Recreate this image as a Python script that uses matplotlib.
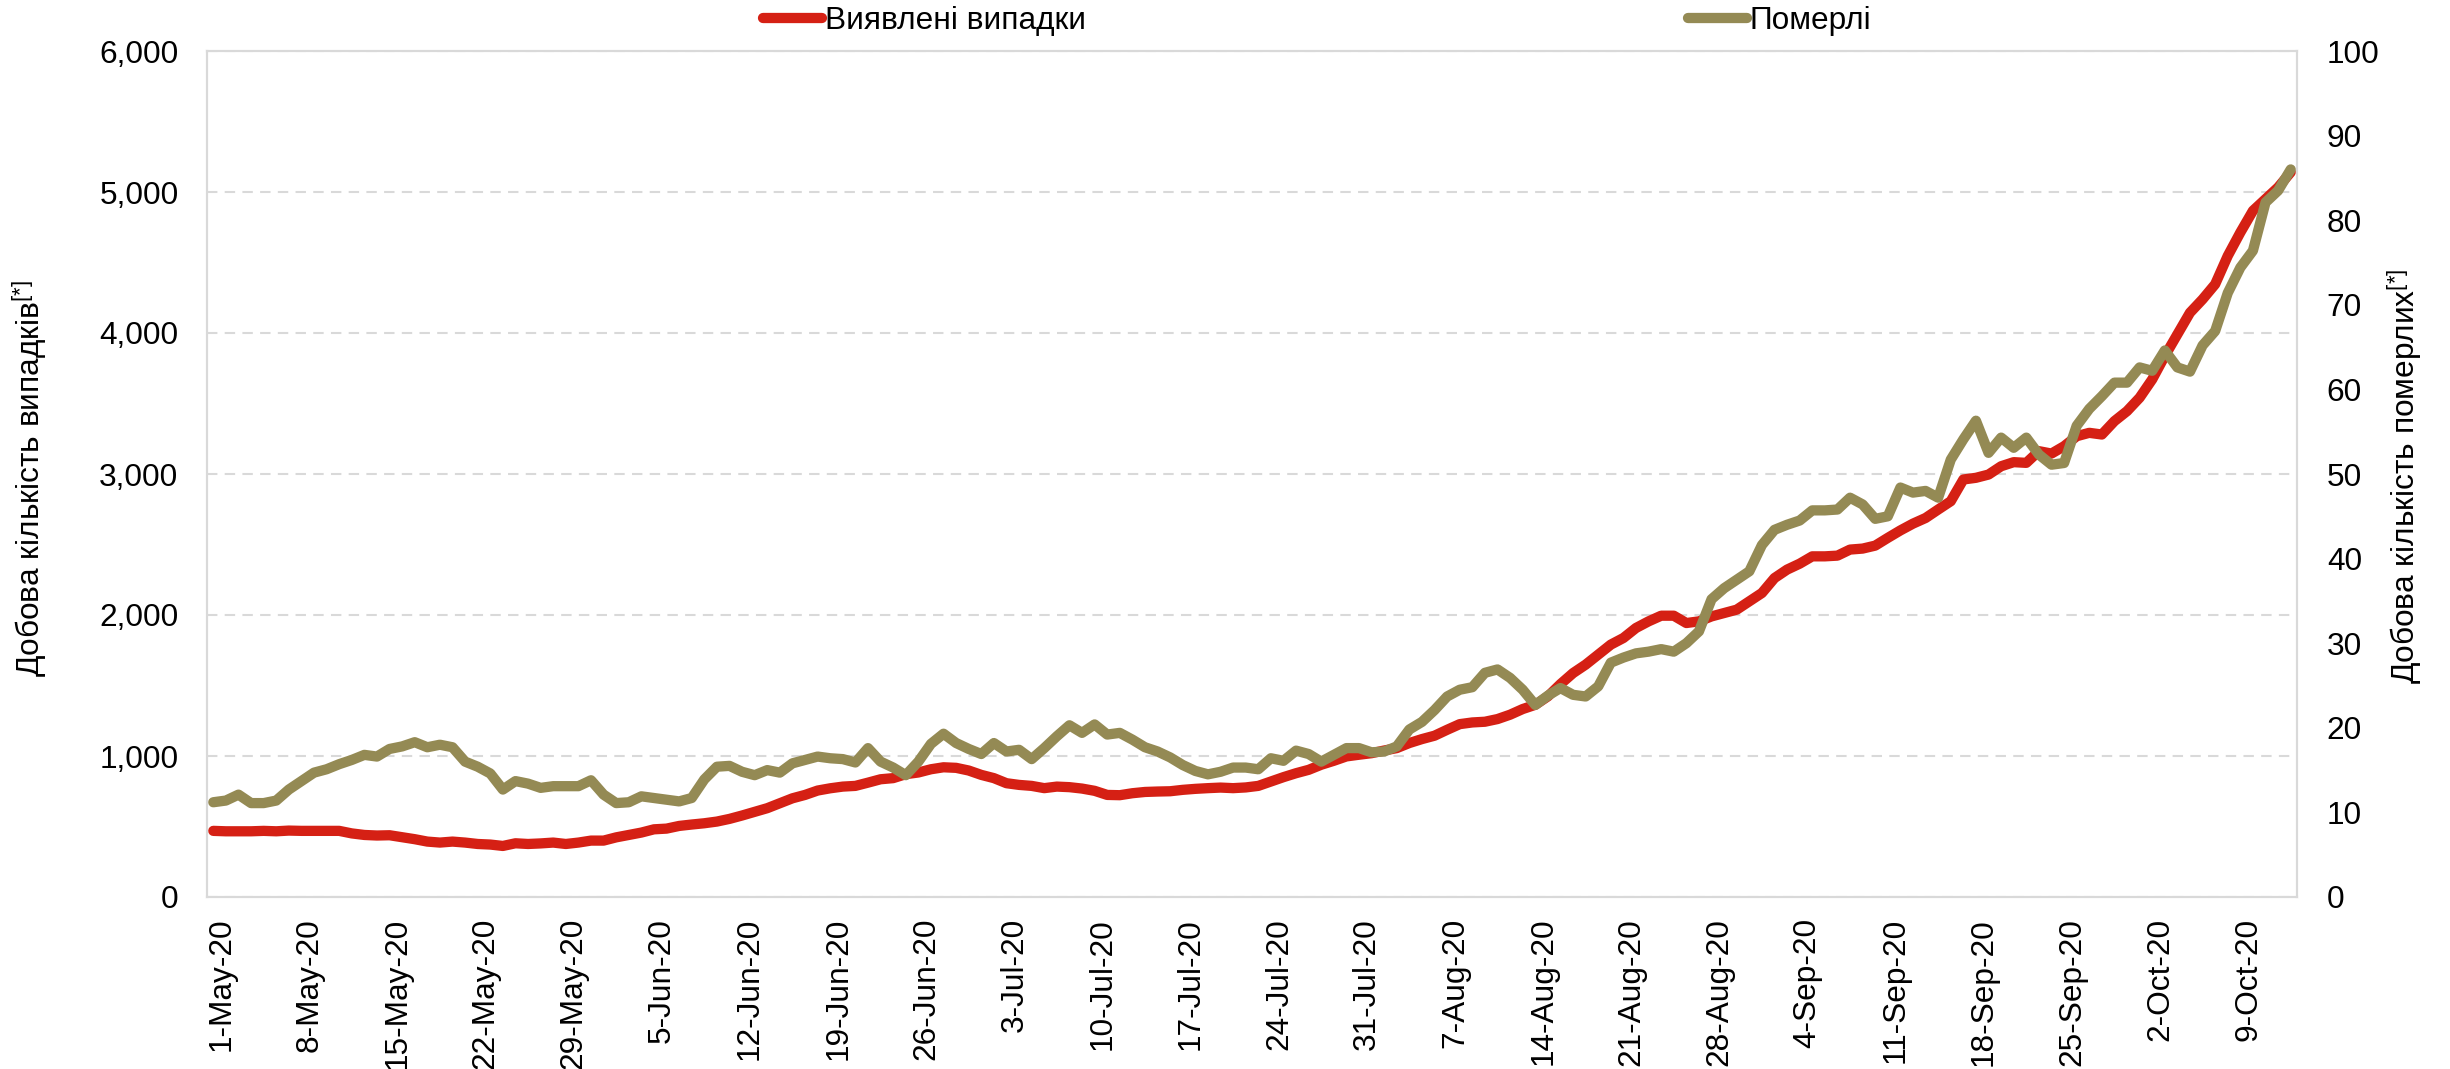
import pandas as pd
import matplotlib
matplotlib.use("Agg")
import matplotlib.pyplot as plt
import matplotlib.dates as mdates
import matplotlib.transforms as mtransforms

plt.rcParams["font.family"] = ["Liberation Sans", "DejaVu Sans"]
plt.rcParams["mathtext.fontset"] = "custom"
plt.rcParams["mathtext.rm"] = "Liberation Sans"
plt.rcParams["mathtext.it"] = "Liberation Sans:italic"

# daily series, 1 May 2020 - 13 Oct 2020
dates = pd.date_range("2020-05-01", "2020-10-13", freq="D")

cases = [
    469, 466, 466, 466, 469, 466, 471, 469, 469, 469, 469, 451, 440, 436, 438, 424, 410, 393, 386, 393,
    386, 376, 372, 362, 381, 376, 380,
    386, 376, 386, 400, 400, 423, 440, 457, 480, 485, 504, 514, 523, 535, 554, 578, 604, 630, 665, 700,
    724, 755, 771, 783, 788, 811, 835,
    843, 871, 883, 906, 920, 916, 897, 866, 843, 807, 795, 788, 772, 783, 779, 769, 753, 724, 722, 736,
    745, 748, 750, 760, 767, 772, 776,
    772, 777, 788, 819, 850, 878, 902, 938, 966, 997, 1009, 1020, 1039, 1056, 1092, 1120, 1144, 1186,
    1226, 1238, 1243, 1262, 1293, 1333, 1363, 1423, 1510,
    1588, 1648, 1719, 1790, 1837, 1908, 1955, 1995, 1995, 1943, 1955, 1990, 2014, 2038, 2097, 2156,
    2262, 2322, 2364, 2416, 2416, 2421, 2464, 2471, 2492, 2547, 2600,
    2648, 2688, 2748, 2807, 2961, 2973, 2996, 3055, 3084, 3079, 3162, 3145, 3197, 3268, 3292, 3280,
    3375, 3446, 3541, 3671, 3837, 3990, 4144, 4239, 4346, 4547, 4713, 4867, 4950, 5033, 5140,
]

deaths = [
    11.2, 11.4, 12.1, 11.1, 11.1, 11.4, 12.7, 13.7, 14.7, 15.1, 15.7, 16.2, 16.8, 16.6, 17.5, 17.8,
    18.3, 17.7, 18.0, 17.7, 16.0, 15.4, 14.6, 12.7, 13.7, 13.4, 12.9,
    13.1, 13.1, 13.1, 13.8, 12.1, 11.1, 11.2, 11.9, 11.7, 11.5, 11.3, 11.7, 13.9, 15.4, 15.5, 14.8,
    14.4, 15.0, 14.7, 15.8, 16.2, 16.6, 16.4, 16.3, 15.9, 17.6, 16.0,
    15.3, 14.4, 16.0, 18.1, 19.3, 18.2, 17.5, 16.9, 18.2, 17.2, 17.4, 16.3, 17.6, 19.0, 20.3, 19.4,
    20.4, 19.2, 19.4, 18.6, 17.7, 17.2, 16.5, 15.6, 14.9, 14.5, 14.8,
    15.3, 15.3, 15.1, 16.4, 16.1, 17.3, 16.9, 16.0, 16.8, 17.6, 17.6, 17.1, 17.2, 17.8, 19.8, 20.7,
    22.1, 23.7, 24.5, 24.8, 26.5, 26.9, 25.9, 24.5, 22.7, 23.8, 24.7,
    23.9, 23.7, 24.9, 27.7, 28.3, 28.8, 29.0, 29.3, 29.0, 30.0, 31.4, 35.2, 36.5, 37.5, 38.5, 41.6,
    43.4, 44.0, 44.5, 45.7, 45.7, 45.8, 47.2, 46.4, 44.7, 45.0, 48.4,
    47.8, 48.0, 47.2, 51.7, 54.1, 56.3, 52.5, 54.3, 53.1, 54.3, 52.3, 51.1, 51.3, 55.7, 57.7, 59.2,
    60.8, 60.8, 62.6, 62.2, 64.6, 62.6, 62.1, 65.2, 66.9, 71.4, 74.4, 76.4, 82.1, 83.5, 86.0,
]

cases_label = "Виявлені випадки"
deaths_label = "Померлі"
left_title = "Добова кількість випадків$^{[*]}$"
right_title = "Добова кількість померлих$^{[*]}$"

red = "#D52014"
olive = "#948A54"
grey = "#D9D9D9"
fs = 22.8

fig = plt.figure(figsize=(24.5, 10.69), dpi=100)
ax = fig.add_axes([207 / 2450, 172 / 1069, 2090 / 2450, 846 / 1069])
ax2 = ax.twinx()

l1, = ax.plot(dates, cases, color=red, lw=7.4, solid_capstyle="round", solid_joinstyle="round",
              label=cases_label)
l2, = ax2.plot(dates, deaths, color=olive, lw=7.4, solid_capstyle="round", solid_joinstyle="round",
               label=deaths_label)

half = pd.Timedelta(hours=12)
ax.set_xlim(dates[0] - half, dates[-1] + half)
ax.set_ylim(0, 6000)
ax2.set_ylim(0, 100)
ax.set_yticks(range(0, 6001, 1000))
ax2.set_yticks(range(0, 101, 10))
ax.yaxis.set_major_formatter(matplotlib.ticker.FuncFormatter(lambda v, p: f"{int(v):,}"))

ax.set_xticks(dates[::7])
ax.xaxis.set_major_formatter(mdates.DateFormatter("%-d-%b-%y"))

ax.tick_params(axis="y", length=0, labelsize=fs, pad=20.5)
ax.tick_params(axis="x", length=0, labelsize=fs, pad=15, labelrotation=90)
ax2.tick_params(axis="y", length=0, labelsize=fs, pad=21.5)

# labels in the original sit a few pixels right of the tick
shift = mtransforms.ScaledTranslation(8 / 100, 0, fig.dpi_scale_trans)
for lbl in ax.get_xticklabels():
    lbl.set_transform(lbl.get_transform() + shift)

ax.grid(axis="y", color=grey, lw=1.5, linestyle=(0, (5, 3.5)))
ax.set_axisbelow(True)
for a in (ax, ax2):
    for s in a.spines.values():
        s.set_color(grey)
        s.set_linewidth(1.5)

fig.text(30 / 2450, 1 - 478 / 1069, left_title, rotation=90, ha="center", va="center", fontsize=fs)
fig.text(2405 / 2450, 1 - 476 / 1069, right_title, rotation=90, ha="center", va="center", fontsize=fs)

fig.legend([l1, l2], [cases_label, deaths_label], loc="center left",
           bbox_to_anchor=(763 / 2450, 1 - 21 / 1069), ncol=2, frameon=False, fontsize=fs,
           borderpad=0, borderaxespad=0, handlelength=1.86, handletextpad=0.1,
           columnspacing=19.0)

fig.savefig("out.png", dpi=100)
